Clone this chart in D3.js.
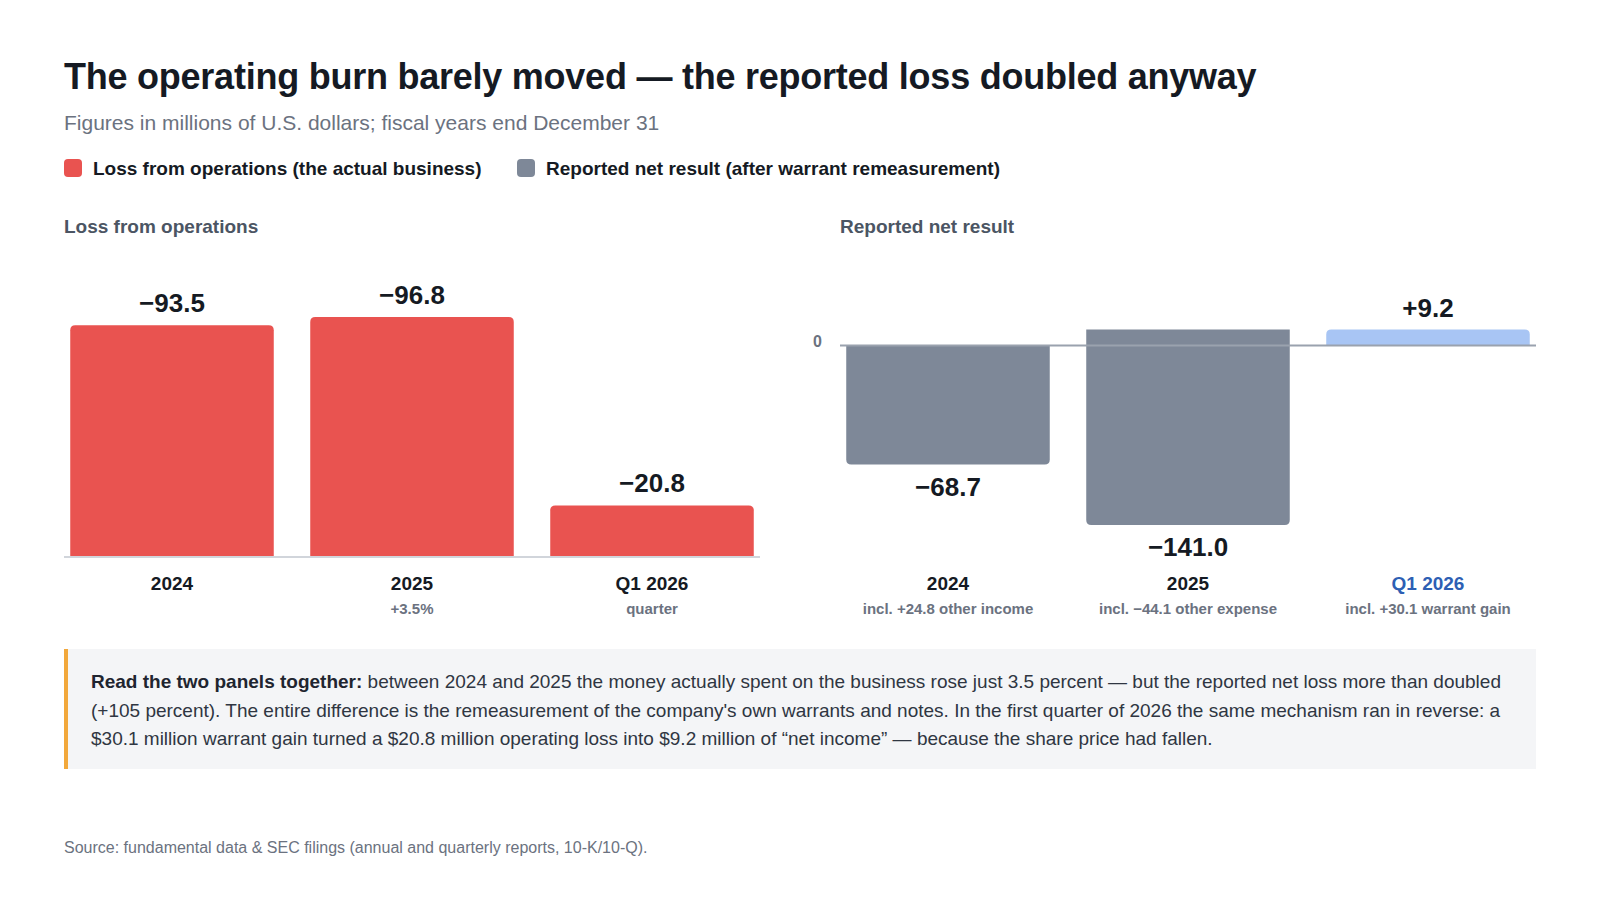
<!DOCTYPE html>
<html>
<head>
  <meta charset="utf-8">
  <title>Operating burn vs reported loss</title>
  <script src="https://d3js.org/d3.v7.min.js"></script>
  <style>
    body { margin: 0; background: #fff; }
    svg { display: block; font-family: "Liberation Sans", Arial, Helvetica, sans-serif; }
  </style>
</head>
<body>

<svg></svg>

<script>

// data
var periods = ['2024', '2025', 'Q1 2026']
var opLoss = [-93.5, -96.8, -20.8]
var opNotes = ['', '+3.5%', 'quarter']
var netResult = [-68.7, -141.0, 9.2]
var netNotes = ['incl. +24.8 other income', 'incl. \u221244.1 other expense', 'incl. +30.1 warrant gain']
var netFloor = -103.6   // lowest value the right panel has room for

var legendItems = [
  {label: 'Loss from operations (the actual business)', color: '#e95350'},
  {label: 'Reported net result (after warrant remeasurement)', color: '#7e8898'}
]

var noteLines = [
  [{t: 'Read the two panels together:', b: true}, {t: ' between 2024 and 2025 the money actually spent on the business rose just 3.5 percent \u2014 but the reported net loss more than doubled'}],
  [{t: '(+105 percent). The entire difference is the remeasurement of the company\'s own warrants and notes. In the first quarter of 2026 the same mechanism ran in reverse: a'}],
  [{t: '$30.1 million warrant gain turned a $20.8 million operating loss into $9.2 million of \u201cnet income\u201d \u2014 because the share price had fallen.'}]
]

var fmt = (v) => (v < 0 ? '\u2212' : '+') + d3.format('.1f')(Math.abs(v))

var svg = d3.select('svg')
  .attr('width', 1600)
  .attr('height', 900)

// header
svg.append('text')
  .attr('x', 64).attr('y', 89)
  .style('font-size', '36px').style('font-weight', 700)
  .style('fill', '#151a23').style('letter-spacing', '-0.24px')
  .text('The operating burn barely moved \u2014 the reported loss doubled anyway')

svg.append('text')
  .attr('x', 64).attr('y', 130)
  .style('font-size', '21px').style('fill', '#6b7280')
  .text('Figures in millions of U.S. dollars; fiscal years end December 31')

var legend = svg.append('g')
var lx = [64, 517]
legendItems.forEach((d, i) => {
  legend.append('rect')
    .attr('x', lx[i]).attr('y', 159).attr('width', 18).attr('height', 18)
    .attr('rx', 4).style('fill', d.color)
  legend.append('text')
    .attr('x', lx[i] + 29).attr('y', 175)
    .style('font-size', '19px').style('font-weight', 700).style('fill', '#151a23')
    .text(d.label)
})

// bar path with rounded corners on the value end only
function barPath(x, w, y0, y1, roundTop, r) {
  var top = Math.min(y0, y1), bot = Math.max(y0, y1)
  r = Math.min(r, (bot - top) / 2)
  if (roundTop) {
    return 'M' + x + ',' + bot + 'V' + (top + r) + 'Q' + x + ',' + top + ' ' + (x + r) + ',' + top +
      'H' + (x + w - r) + 'Q' + (x + w) + ',' + top + ' ' + (x + w) + ',' + (top + r) + 'V' + bot + 'Z'
  }
  return 'M' + x + ',' + top + 'V' + (bot - r) + 'Q' + x + ',' + bot + ' ' + (x + r) + ',' + bot +
    'H' + (x + w - r) + 'Q' + (x + w) + ',' + bot + ' ' + (x + w) + ',' + (bot - r) + 'V' + top + 'Z'
}

function panelTitle(x, text) {
  svg.append('text')
    .attr('x', x).attr('y', 233)
    .style('font-size', '19px').style('font-weight', 700).style('fill', '#4b5563')
    .text(text)
}

function categoryLabels(g, x, notes, highlight) {
  g.selectAll('.cat')
    .data(periods)
    .enter().append('text')
    .attr('x', (d) => x(d) + x.bandwidth() / 2)
    .attr('y', 590)
    .attr('text-anchor', 'middle')
    .style('font-size', '19px').style('font-weight', 700)
    .style('fill', (d) => d === highlight ? '#2d5fb4' : '#151a23')
    .text((d) => d)

  g.selectAll('.note')
    .data(periods)
    .enter().append('text')
    .attr('x', (d) => x(d) + x.bandwidth() / 2)
    .attr('y', 614)
    .attr('text-anchor', 'middle')
    .style('font-size', '15px').style('font-weight', 700).style('fill', '#6b7280')
    .text((d, i) => notes[i])
}

// left panel: loss from operations (magnitude drawn upward)
panelTitle(64, 'Loss from operations')

var left = svg.append('g')
var xL = d3.scaleBand().domain(periods).range([64, 760]).paddingInner(0.152).paddingOuter(0.026)
var yL = d3.scaleLinear().domain([0, d3.max(opLoss, (v) => Math.abs(v))]).range([557, 317])

left.selectAll('.bar')
  .data(opLoss)
  .enter().append('path')
  .attr('d', (v, i) => barPath(xL(periods[i]), xL.bandwidth(), yL(0), yL(Math.abs(v)), true, 5))
  .style('fill', legendItems[0].color)

left.append('line')
  .attr('x1', 64).attr('x2', 760).attr('y1', yL(0)).attr('y2', yL(0))
  .style('stroke', '#d1d5db').style('stroke-width', 2)

left.selectAll('.val')
  .data(opLoss)
  .enter().append('text')
  .attr('x', (v, i) => xL(periods[i]) + xL.bandwidth() / 2)
  .attr('y', (v) => yL(Math.abs(v)) - 13)
  .attr('text-anchor', 'middle')
  .style('font-size', '26px').style('font-weight', 700).style('fill', '#151a23')
  .text(fmt)

categoryLabels(left, xL, opNotes, null)

// right panel: reported net result
panelTitle(840, 'Reported net result')

var right = svg.append('g')
var xR = d3.scaleBand().domain(periods).range([840, 1536]).paddingInner(0.152).paddingOuter(0.026)
var yR = d3.scaleLinear().domain([netFloor, d3.max(netResult)]).range([525, 329.6]).clamp(true)

right.selectAll('.bar')
  .data(netResult)
  .enter().append('path')
  .attr('d', (v, i) => {
    // values past the floor fill the whole panel height
    var from = v < netFloor ? yR(d3.max(netResult)) : yR(0)
    return barPath(xR(periods[i]), xR.bandwidth(), from, yR(v), v >= 0, 5)
  })
  .style('fill', (v) => v >= 0 ? '#a8c5f4' : legendItems[1].color)

right.append('line')
  .attr('x1', 840).attr('x2', 1536).attr('y1', yR(0)).attr('y2', yR(0))
  .style('stroke', '#9aa2ae').style('stroke-width', 2)

right.append('text')
  .attr('x', 822).attr('y', yR(0) + 1)
  .attr('text-anchor', 'end')
  .style('font-size', '16px').style('font-weight', 700).style('fill', '#6b7280')
  .text('0')

right.selectAll('.val')
  .data(netResult)
  .enter().append('text')
  .attr('x', (v, i) => xR(periods[i]) + xR.bandwidth() / 2)
  .attr('y', (v) => v >= 0 ? yR(v) - 13 : yR(v) + 31)
  .attr('text-anchor', 'middle')
  .style('font-size', '26px').style('font-weight', 700).style('fill', '#151a23')
  .text(fmt)

categoryLabels(right, xR, netNotes, 'Q1 2026')

// note box
svg.append('rect')
  .attr('x', 64).attr('y', 649).attr('width', 1472).attr('height', 120)
  .style('fill', '#f4f5f7')
svg.append('rect')
  .attr('x', 64).attr('y', 649).attr('width', 4).attr('height', 120)
  .style('fill', '#f2a83b')

var note = svg.append('text')
  .style('font-size', '19px').style('fill', '#2f3642')
noteLines.forEach((line, i) => {
  line.forEach((part, j) => {
    var t = note.append('tspan').text(part.t)
    if (j === 0) t.attr('x', 91).attr('y', 688 + i * 28.5)
    if (part.b) t.style('font-weight', 700).style('fill', '#1f2530')
  })
})

svg.append('text')
  .attr('x', 64).attr('y', 853)
  .style('font-size', '16px').style('fill', '#6b7280')
  .text('Source: fundamental data & SEC filings (annual and quarterly reports, 10-K/10-Q).')

</script>

</body>
</html>
